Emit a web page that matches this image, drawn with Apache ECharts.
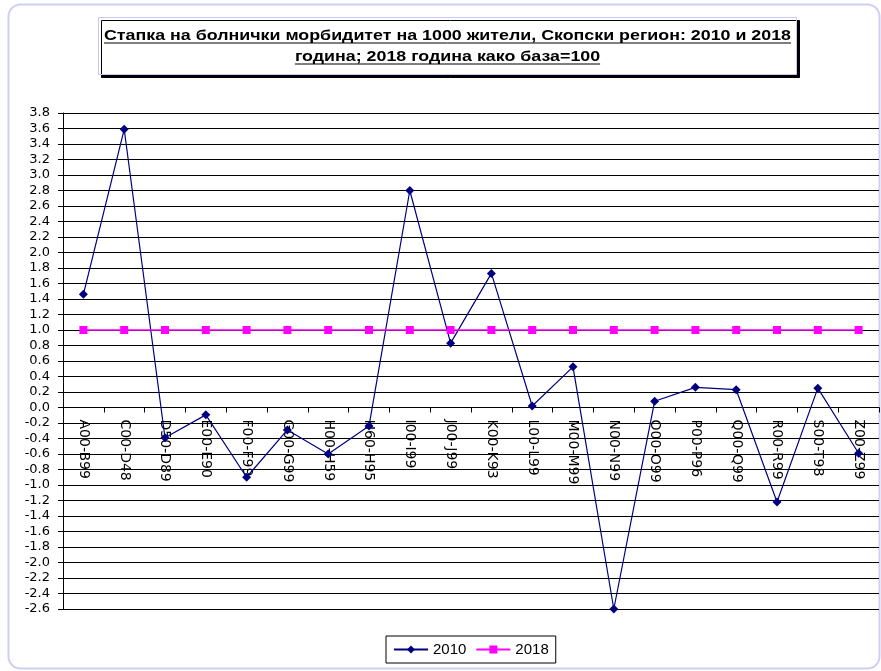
<!DOCTYPE html>
<html><head><meta charset="utf-8">
<script src="https://cdn.jsdelivr.net/npm/echarts@6/dist/echarts.min.js"></script>
<style>html,body{margin:0;padding:0;background:#fff}#c{width:881px;height:671px}</style>
</head><body><div id="c"></div>
<script>
const categories = ['A00-B99','C00-D48','D50-D89','E00-E90','F00-F99','G00-G99','H00-H59','H60-H95','I00-I99','J00-J99','K00-K93','L00-L99','M00-M99','N00-N99','O00-O99','P00-P96','Q00-Q99','R00-R99','S00-T98','Z00-Z99'];
const values2010 = [1.46, 3.59, -0.39, -0.095, -0.90, -0.29, -0.60, -0.24, 2.80, 0.83, 1.73, 0.02, 0.525, -2.60, 0.08, 0.26, 0.23, -1.22, 0.25, -0.59];
const values2018 = [1, 1, 1, 1, 1, 1, 1, 1, 1, 1, 1, 1, 1, 1, 1, 1, 1, 1, 1, 1];
const seriesNames = ['2010', '2018'];
const titleLines = ['Стапка на болнички морбидитет на 1000 жители, Скопски регион: 2010 и 2018', 'година; 2018 година како база=100'];
const yMin = -2.6, yMax = 3.8, yStep = 0.2;

const FONT = '"Liberation Sans", Arial, sans-serif';
const DEJAVU = '"DejaVu Sans", sans-serif';
const titleFontSize = 14;
const titleFont = 'bold ' + titleFontSize + 'px ' + FONT;
const cv = document.createElement('canvas').getContext('2d');
cv.font = titleFont;
const cx = 447.5;
const line1Width = 687;  // target drawn width of the first title line
const sx = line1Width / cv.measureText(titleLines[0]).width;
const lineY = [36.5, 57.5];
const titleGraphics = [
  { type: 'rect', shape: { x: 8.5, y: 4.5, width: 871, height: 664, r: 12 }, style: { fill: 'none', stroke: '#cfcff5', lineWidth: 2 }, silent: true, z: -10 },
  { type: 'rect', shape: { x: 98.5, y: 17.5, width: 698, height: 57 }, style: { fill: '#fff', stroke: '#c8c8f4', lineWidth: 1, shadowColor: '#000', shadowOffsetX: 3, shadowOffsetY: 3, shadowBlur: 0 }, z: 10 }
];
titleLines.forEach((t, i) => {
  const w = cv.measureText(t).width * sx;
  titleGraphics.push({ type: 'text', x: cx, y: lineY[i], scaleX: sx, style: { text: t, font: titleFont, fill: '#000', textAlign: 'center', textVerticalAlign: 'middle' }, z: 11 });
  titleGraphics.push({ type: 'line', shape: { x1: cx - w / 2, y1: lineY[i] + 6.5, x2: cx + w / 2, y2: lineY[i] + 6.5 }, style: { stroke: '#000', lineWidth: 1 }, z: 11 });
});

const gridTop = 113, gridHeight = 496;
// distance from the grid bottom up to the zero line, derived from the axis range
const zeroFromBottom = gridHeight * (0 - yMin) / (yMax - yMin);

const chart = echarts.init(document.getElementById('c'), null, { renderer: 'canvas' });
chart.setOption({
  animation: false,
  backgroundColor: '#fff',
  textStyle: { fontFamily: FONT },
  graphic: titleGraphics,
  grid: { left: 63, top: gridTop, width: 816, height: gridHeight, containLabel: false, outerBoundsMode: 'none' },
  legend: {
    left: 386, top: 636,
    data: seriesNames,
    borderColor: '#000', borderWidth: 1, padding: [6, 7, 6, 7],
    itemWidth: 34, itemHeight: 10, itemGap: 9,
    textStyle: { fontSize: 15, color: '#000', fontFamily: FONT }
  },
  xAxis: {
    type: 'category',
    data: categories,
    boundaryGap: true,
    axisLine: { onZero: true, lineStyle: { color: '#000', width: 1 } },
    axisTick: { show: true, interval: 0, length: 5, lineStyle: { color: '#000' } },
    axisLabel: { interval: 0, rotate: -90, fontSize: 14, color: '#000', margin: 12 - zeroFromBottom, fontFamily: DEJAVU },
    splitLine: { show: false }
  },
  yAxis: {
    type: 'value',
    min: yMin, max: yMax, interval: yStep,
    axisLine: { show: true, lineStyle: { color: '#000', width: 1 } },
    axisTick: { show: true, length: 5, lineStyle: { color: '#000' } },
    axisLabel: { fontSize: 13, color: '#000', margin: 13, fontFamily: DEJAVU,
      formatter: v => (Math.abs(v) < 1e-9 ? 0 : v).toFixed(1) },
    splitLine: { show: true, lineStyle: { color: '#000', width: 1 } }
  },
  series: [
    { name: seriesNames[0], type: 'line', data: values2010, color: '#000080', symbol: 'diamond', symbolSize: 9,
      lineStyle: { width: 1.2, color: '#000080' }, itemStyle: { color: '#000080' }, z: 3 },
    { name: seriesNames[1], type: 'line', data: values2018, color: '#ff00ff', symbol: 'rect', symbolSize: 8,
      lineStyle: { width: 1.5, color: '#ff00ff' }, itemStyle: { color: '#ff00ff' }, z: 4 }
  ]
});
</script></body></html>
